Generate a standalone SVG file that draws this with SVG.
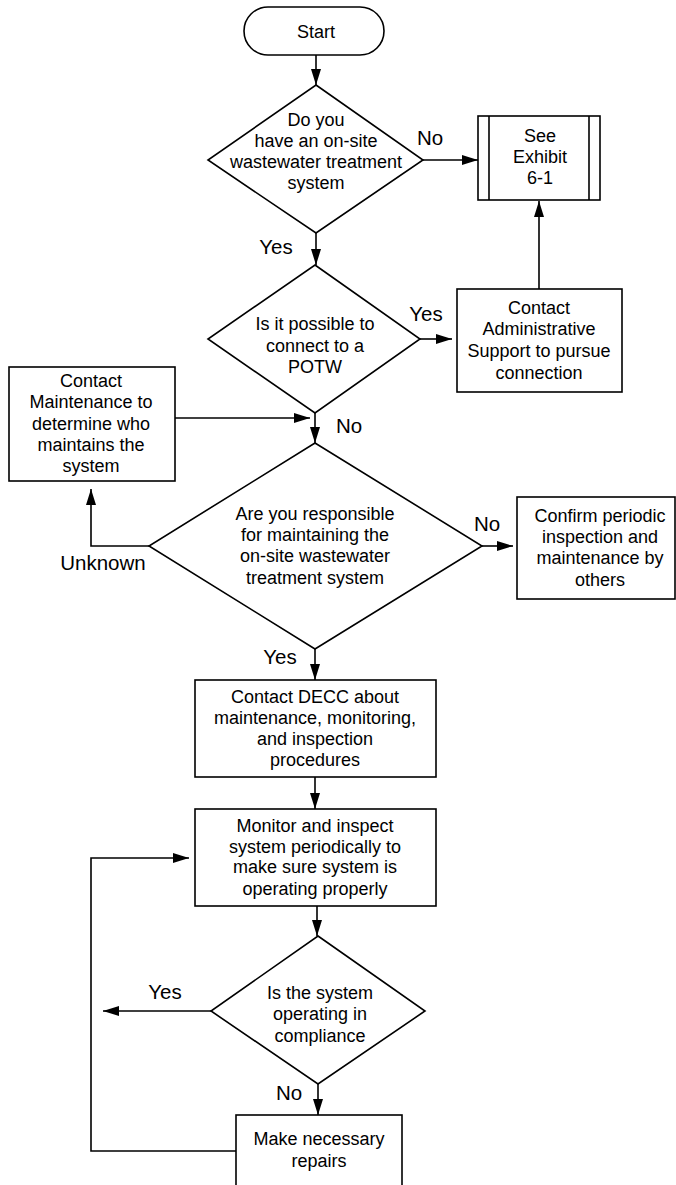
<svg xmlns="http://www.w3.org/2000/svg" width="676" height="1185" viewBox="0 0 676 1185">
  <style>
    .shape { fill: #ffffff; stroke: #000000; stroke-width: 1.6; }
    .line { fill: none; stroke: #000000; stroke-width: 1.6; }
    text { font-family: "Liberation Sans", Arial, sans-serif; font-size: 18px; fill: #000000; text-anchor: middle; }
    .lbl { font-size: 20.5px; }
  </style>
  <defs>
    <marker id="arrow" viewBox="0 0 16 10" refX="16" refY="5" markerWidth="16" markerHeight="10" markerUnits="userSpaceOnUse" orient="auto">
      <path d="M0,0 L16,5 L0,10 Z" fill="#000000"/>
    </marker>
  </defs>
  <rect width="676" height="1185" fill="#ffffff"/>

  <!-- connectors -->
  <g id="connectors">
    <line class="line" x1="316" y1="55" x2="316" y2="85" marker-end="url(#arrow)"/>
    <line class="line" x1="423" y1="160" x2="478" y2="160" marker-end="url(#arrow)"/>
    <line class="line" x1="316" y1="233" x2="316" y2="265" marker-end="url(#arrow)"/>
    <line class="line" x1="420" y1="339" x2="452" y2="339" marker-end="url(#arrow)"/>
    <line class="line" x1="539" y1="289" x2="539" y2="201" marker-end="url(#arrow)"/>
    <line class="line" x1="175" y1="418" x2="310" y2="418" marker-end="url(#arrow)"/>
    <line class="line" x1="315" y1="413" x2="315" y2="443" marker-end="url(#arrow)"/>
    <polyline class="line" points="149,546 91,546 91,489" marker-end="url(#arrow)"/>
    <line class="line" x1="482" y1="546" x2="513" y2="546" marker-end="url(#arrow)"/>
    <line class="line" x1="315" y1="649" x2="315" y2="680" marker-end="url(#arrow)"/>
    <line class="line" x1="315" y1="777" x2="315" y2="809" marker-end="url(#arrow)"/>
    <line class="line" x1="317" y1="906" x2="317" y2="936" marker-end="url(#arrow)"/>
    <line class="line" x1="211" y1="1011" x2="103" y2="1011" marker-end="url(#arrow)"/>
    <line class="line" x1="318" y1="1084" x2="318" y2="1115" marker-end="url(#arrow)"/>
    <polyline class="line" points="236,1151 91,1151 91,858 189,858" marker-end="url(#arrow)"/>
  </g>

  <!-- connector labels -->
  <g id="labels">
    <text class="lbl" x="430" y="145">No</text>
    <text class="lbl" x="276" y="254">Yes</text>
    <text class="lbl" x="426" y="321">Yes</text>
    <text class="lbl" x="349" y="433">No</text>
    <text class="lbl" x="103" y="570">Unknown</text>
    <text class="lbl" x="487" y="531">No</text>
    <text class="lbl" x="280" y="664">Yes</text>
    <text class="lbl" x="165" y="999">Yes</text>
    <text class="lbl" x="289" y="1100">No</text>
  </g>

  <g id="start">
    <rect class="shape" x="244" y="7" width="140" height="48" rx="24" ry="24"/>
    <text x="316" y="38">Start</text>
  </g>

  <g id="onsite-decision">
    <polygon class="shape" points="316,85 423,160 316,233 208,160"/>
    <text x="316" y="126">Do you</text>
    <text x="316" y="147">have an on-site</text>
    <text x="316" y="168">wastewater treatment</text>
    <text x="316" y="189">system</text>
  </g>

  <g id="see-exhibit">
    <rect class="shape" x="478" y="116" width="122" height="84"/>
    <line class="line" x1="489" y1="116" x2="489" y2="200"/>
    <line class="line" x1="589" y1="116" x2="589" y2="200"/>
    <text x="540" y="142">See</text>
    <text x="540" y="163">Exhibit</text>
    <text x="540" y="184">6-1</text>
  </g>

  <g id="potw-decision">
    <polygon class="shape" points="315,265 420,339 315,413 208,339"/>
    <text x="315" y="330">Is it possible to</text>
    <text x="315" y="352">connect to a</text>
    <text x="315" y="373">POTW</text>
  </g>

  <g id="contact-admin">
    <rect class="shape" x="457" y="289" width="165" height="103"/>
    <text x="539" y="314">Contact</text>
    <text x="539" y="335">Administrative</text>
    <text x="539" y="357">Support to pursue</text>
    <text x="539" y="379">connection</text>
  </g>

  <g id="contact-maintenance">
    <rect class="shape" x="9" y="367" width="166" height="114"/>
    <text x="91" y="387">Contact</text>
    <text x="91" y="408">Maintenance to</text>
    <text x="91" y="430">determine who</text>
    <text x="91" y="451">maintains the</text>
    <text x="91" y="472">system</text>
  </g>

  <g id="responsible-decision">
    <polygon class="shape" points="315,443 482,546 315,649 149,546"/>
    <text x="315" y="520">Are you responsible</text>
    <text x="315" y="541">for maintaining the</text>
    <text x="315" y="562">on-site wastewater</text>
    <text x="315" y="584">treatment system</text>
  </g>

  <g id="confirm-others">
    <rect class="shape" x="517" y="497" width="158" height="102"/>
    <text x="600" y="522">Confirm periodic</text>
    <text x="600" y="543">inspection and</text>
    <text x="600" y="564">maintenance by</text>
    <text x="600" y="586">others</text>
  </g>

  <g id="contact-decc">
    <rect class="shape" x="195" y="680" width="241" height="97"/>
    <text x="315" y="703">Contact DECC about</text>
    <text x="315" y="724">maintenance, monitoring,</text>
    <text x="315" y="745">and inspection</text>
    <text x="315" y="766">procedures</text>
  </g>

  <g id="monitor-inspect">
    <rect class="shape" x="195" y="809" width="241" height="97"/>
    <text x="315" y="832">Monitor and inspect</text>
    <text x="315" y="853">system periodically to</text>
    <text x="315" y="873">make sure system is</text>
    <text x="315" y="895">operating properly</text>
  </g>

  <g id="compliance-decision">
    <polygon class="shape" points="318,936 425,1011 318,1084 211,1011"/>
    <text x="320" y="999">Is the system</text>
    <text x="320" y="1020">operating in</text>
    <text x="320" y="1042">compliance</text>
  </g>

  <g id="make-repairs">
    <rect class="shape" x="236" y="1115" width="166" height="75"/>
    <text x="319" y="1145">Make necessary</text>
    <text x="319" y="1167">repairs</text>
  </g>
</svg>
